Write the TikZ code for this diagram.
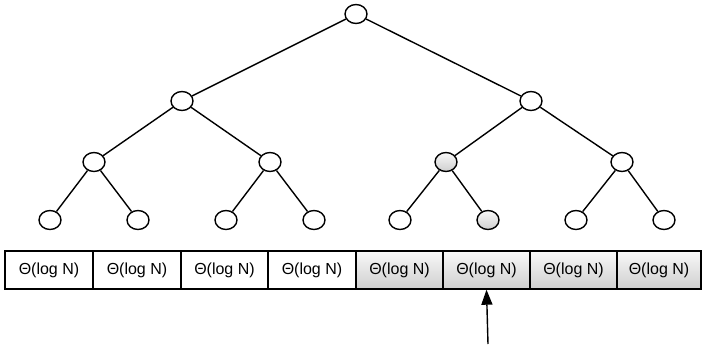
\documentclass[tikz,border=0pt]{standalone}
\usepackage{fontspec}
\setmainfont{Liberation Sans}
\usetikzlibrary{shapes.geometric,arrows.meta}
\begin{document}
\begin{tikzpicture}[x=1pt,y=-1pt,
  vertex/.style={ellipse,draw,line width=1.4pt,minimum width=22pt,minimum height=19pt,inner sep=0pt,fill=white},
  hot/.style={top color=gray!5,bottom color=gray!38},
  cell/.style={draw,line width=1.4pt,inner sep=0pt,minimum height=38pt,font=\fontsize{16}{18}\selectfont},
  link/.style={line width=1.4pt}]
\useasboundingbox (0,0) rectangle (702,346);
% tree nodes
\node[vertex] (r) at (356,14) {};
\node[vertex] (a) at (182,101) {};
\node[vertex] (b) at (531,101) {};
\node[vertex] (aa) at (94,162) {};
\node[vertex] (ab) at (270,162) {};
\node[vertex,hot] (ba) at (446,162) {};
\node[vertex] (bb) at (622,162) {};
\node[vertex] (l1) at (50,220) {};
\node[vertex] (l2) at (138,220) {};
\node[vertex] (l3) at (226,220) {};
\node[vertex] (l4) at (314,220) {};
\node[vertex] (l5) at (400,220) {};
\node[vertex,hot] (l6) at (488,220) {};
\node[vertex] (l7) at (576,220) {};
\node[vertex] (l8) at (664,220) {};
% edges
\foreach \p/\c in {r/a,r/b,a/aa,a/ab,b/ba,b/bb,aa/l1,aa/l2,ab/l3,ab/l4,ba/l5,ba/l6,bb/l7,bb/l8}
  \draw[link] (\p) -- (\c);
% array of cells
\foreach \i/\xa/\xb/\s in {1/5/93/,2/93/181/,3/181/268/,4/268/356/,5/356/443/hot,6/443/530/hot,7/530/617/hot,8/617/701/hot}
  \node[cell,\s,minimum width={(\xb-\xa)*1pt}] (c\i) at ({(\xa+\xb)/2},270) {Θ(log N)};
% pointer
\coordinate (p) at (488,344);
\draw[line width=1.4pt,-{Triangle[length=15pt,width=11pt]}] (p) -- (c6.south);
\end{tikzpicture}
\end{document}
